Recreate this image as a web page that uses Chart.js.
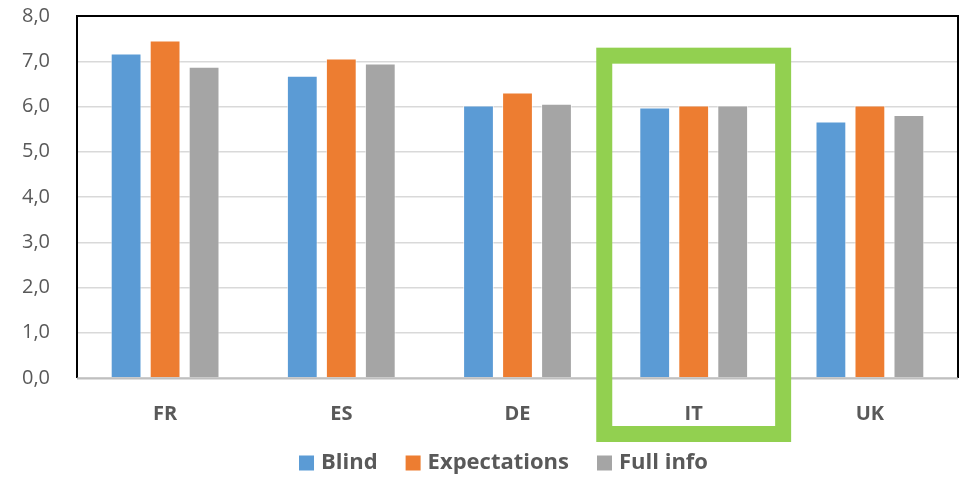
<!DOCTYPE html>
<html>
<head>
<meta charset="utf-8">
<script src="https://cdn.jsdelivr.net/npm/chart.js@4.4.0/dist/chart.umd.min.js"></script>
<style>
  html, body { margin: 0; padding: 0; background: #fff; }
  #wrap { width: 967px; height: 477px; }
</style>
</head>
<body>
<div id="wrap"><canvas id="chart" width="967" height="477"></canvas></div>
<script>
const countries = ['FR', 'ES', 'DE', 'IT', 'UK'];
const blind = [7.17, 6.68, 6.02, 5.98, 5.67];
const expectations = [7.46, 7.06, 6.31, 6.02, 6.02];
const fullInfo = [6.88, 6.95, 6.06, 6.02, 5.81];
const highlighted = 'IT';

const FONT = '"Open Sans", "Liberation Sans", sans-serif';
const TEXT = '#595959';

// black frame on top/left/right, grey axis at the bottom
const framePlugin = {
    id: 'frame',
    afterDatasetsDraw(chart) {
        const { ctx, chartArea: a } = chart;
        ctx.save();
        ctx.strokeStyle = '#000';
        ctx.lineWidth = 2;
        ctx.beginPath();
        ctx.moveTo(a.left, a.bottom);
        ctx.lineTo(a.left, a.top);
        ctx.lineTo(a.right, a.top);
        ctx.lineTo(a.right, a.bottom);
        ctx.stroke();
        ctx.strokeStyle = '#bfbfbf';
        ctx.beginPath();
        ctx.moveTo(a.left, a.bottom + 0.5);
        ctx.lineTo(a.right, a.bottom + 0.5);
        ctx.stroke();
        ctx.restore();
    }
};

// green box around the highlighted country
const highlightPlugin = {
    id: 'highlight',
    afterDraw(chart) {
        const { ctx, scales: { x, y } } = chart;
        const i = countries.indexOf(highlighted);
        const cx = x.getPixelForValue(i);
        const catW = (x.right - x.left) / countries.length;
        const lw = 16;
        const half = catW * 0.553 - lw / 2;
        const top = y.getPixelForValue(7.3) + lw / 2;
        const bottom = y.getPixelForValue(0) + 64 - lw / 2;
        ctx.save();
        ctx.strokeStyle = '#92d050';
        ctx.lineWidth = lw;
        ctx.lineJoin = 'miter';
        ctx.strokeRect(cx - half, top, half * 2, bottom - top);
        ctx.restore();
    }
};

// legend drawn by hand: Excel-like spacing (small box-to-text gap, wide item gap)
const legendPlugin = {
    id: 'bottomLegend',
    afterDraw(chart) {
        const { ctx, chartArea: a } = chart;
        const sets = chart.data.datasets;
        const box = 15, gapText = 7, gapItem = 28;
        ctx.save();
        ctx.font = `bold 22px ${FONT}`;
        ctx.textBaseline = 'middle';
        const widths = sets.map(d => ctx.measureText(d.label).width);
        const total = widths.reduce((s, w) => s + box + gapText + w, 0) + gapItem * (sets.length - 1);
        let xPos = (a.left + a.right) / 2 - 14 - total / 2;
        const yMid = a.bottom + 85;
        sets.forEach((d, k) => {
            ctx.fillStyle = d.backgroundColor;
            ctx.fillRect(xPos, yMid - box / 2, box, box);
            xPos += box + gapText;
            ctx.fillStyle = TEXT;
            ctx.fillText(d.label, xPos, yMid);
            xPos += widths[k] + gapItem;
        });
        ctx.restore();
    }
};

const common = { borderWidth: 1, borderColor: 'rgba(255,255,255,0.6)', categoryPercentage: 0.664, barPercentage: 0.79 };

new Chart(document.getElementById('chart'), {
    type: 'bar',
    data: {
        labels: countries,
        datasets: [
            { label: 'Blind', data: blind, backgroundColor: '#5b9bd5', ...common },
            { label: 'Expectations', data: expectations, backgroundColor: '#ed7d31', ...common },
            { label: 'Full info', data: fullInfo, backgroundColor: '#a5a5a5', ...common }
        ]
    },
    options: {
        responsive: false,
        animation: false,
        layout: { autoPadding: false, padding: { left: 22, right: 9, top: 16, bottom: 0 } },
        plugins: {
            tooltip: { enabled: false },
            legend: { display: false }
        },
        scales: {
            x: {
                afterFit(s) { s.height = 99; },
                grid: { display: false },
                border: { display: false },
                ticks: { color: TEXT, padding: 16, font: { family: FONT, size: 20, weight: 'bold' } }
            },
            y: {
                min: 0, max: 8,
                afterFit(s) { s.width = 55; },
                grid: { color: '#d9d9d9', lineWidth: 1.5, drawTicks: false },
                border: { display: false },
                ticks: {
                    stepSize: 1, padding: 3, crossAlign: 'far', color: TEXT,
                    font: { family: FONT, size: 20 },
                    callback: v => v.toFixed(1).replace('.', ',')
                }
            }
        }
    },
    plugins: [framePlugin, highlightPlugin, legendPlugin]
});
</script>
</body>
</html>
